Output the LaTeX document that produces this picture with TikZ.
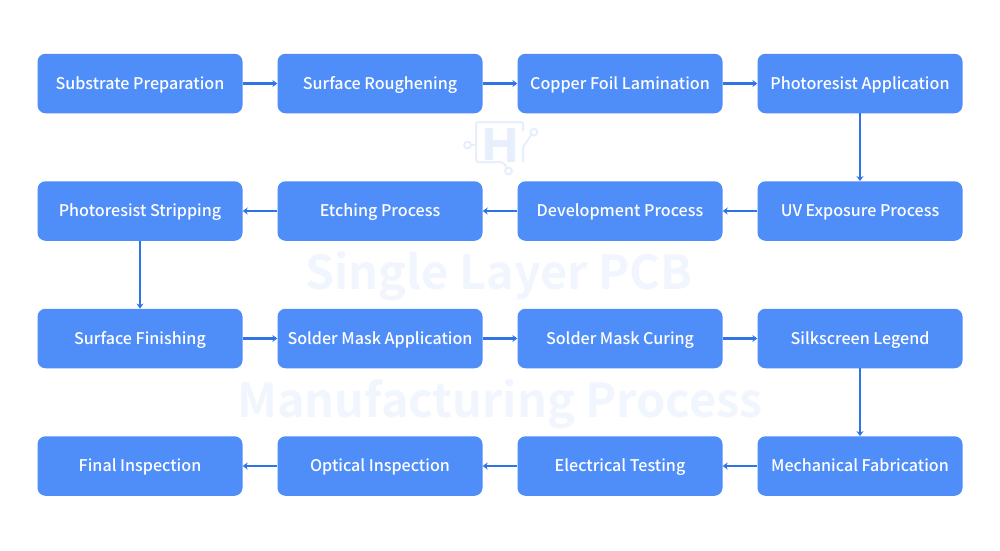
\documentclass[tikz,border=0pt]{standalone}
\usepackage{fontspec}
\setmainfont{Noto Sans CJK SC}
\newfontfamily\labelfont{Noto Sans CJK SC Medium}
\newfontfamily\wmfont{Noto Sans CJK SC Bold}
\usetikzlibrary{arrows.meta}
\definecolor{boxblue}{HTML}{4F8DF9}
\definecolor{linkblue}{HTML}{2F74E6}
\definecolor{wmblue}{HTML}{F1F5FE}
\definecolor{logoblue}{HTML}{E8EFFC}
\tikzset{
  x=1pt,y=-1pt,
  procbox/.style={fill=boxblue,draw=none,rounded corners=8pt,minimum width=205pt,minimum height=59.5pt,inner sep=0pt,text=white,text height=14.5pt,text depth=3.4pt,font=\labelfont\fontsize{16.1}{20}\selectfont},
  link/.style={draw=linkblue,line width=2.4pt,-{Stealth[length=5pt,width=7pt]}},
  wmark/.style={text=wmblue,inner sep=0pt,font=\wmfont\fontsize{46.8}{50}\selectfont},
  logoline/.style={draw=logoblue,line width=2pt,fill=none,rounded corners=2pt}
}
\begin{document}
\begin{tikzpicture}
\useasboundingbox (0,0) rectangle (1000,550);
\fill[white] (0,0) rectangle (1000,550);
% watermark
\node[wmark] (wa) at (499,276) {Single Layer PCB};
\node[wmark] (wb) at (500,404) {Manufacturing Process};
\draw[logoline] (523,131) -- (523,122) -- (476,122) -- (476,162) -- (503,162) -- (507,168);
\draw[logoline] (471,145) -- (476,145);
\draw[logoline] (523,162) -- (523,147) -- (531.5,134.5);
\draw[logoline] (467.5,145) circle (3.4);
\draw[logoline] (534,132) circle (3.4);
\draw[logoline] (508.5,171) circle (3.4);
\fill[logoblue] (485,128) rectangle (493,160);
\fill[logoblue] (507,128) rectangle (515,162);
\fill[logoblue] (493,140) rectangle (507,147);
% boxes
\node[procbox] (n1) at (140,83.5) {Substrate Preparation};
\node[procbox] (n2) at (380,83.5) {Surface Roughening};
\node[procbox] (n3) at (620,83.5) {Copper Foil Lamination};
\node[procbox] (n4) at (860,83.5) {Photoresist Application};
\node[procbox] (n5) at (860,211) {UV Exposure Process};
\node[procbox] (n6) at (620,211) {Development Process};
\node[procbox] (n7) at (380,211) {Etching Process};
\node[procbox] (n8) at (140,211) {Photoresist Stripping};
\node[procbox] (n9) at (140,338.5) {Surface Finishing};
\node[procbox] (n10) at (380,338.5) {Solder Mask Application};
\node[procbox] (n11) at (620,338.5) {Solder Mask Curing};
\node[procbox] (n12) at (860,338.5) {Silkscreen Legend};
\node[procbox] (n13) at (860,466) {Mechanical Fabrication};
\node[procbox] (n14) at (620,466) {Electrical Testing};
\node[procbox] (n15) at (380,466) {Optical Inspection};
\node[procbox] (n16) at (140,466) {Final Inspection};
% connectors
\draw[link] (n1) -- (n2);
\draw[link] (n2) -- (n3);
\draw[link] (n3) -- (n4);
\draw[link] (n4) -- (n5);
\draw[link] (n5) -- (n6);
\draw[link] (n6) -- (n7);
\draw[link] (n7) -- (n8);
\draw[link] (n8) -- (n9);
\draw[link] (n9) -- (n10);
\draw[link] (n10) -- (n11);
\draw[link] (n11) -- (n12);
\draw[link] (n12) -- (n13);
\draw[link] (n13) -- (n14);
\draw[link] (n14) -- (n15);
\draw[link] (n15) -- (n16);
\end{tikzpicture}
\end{document}
